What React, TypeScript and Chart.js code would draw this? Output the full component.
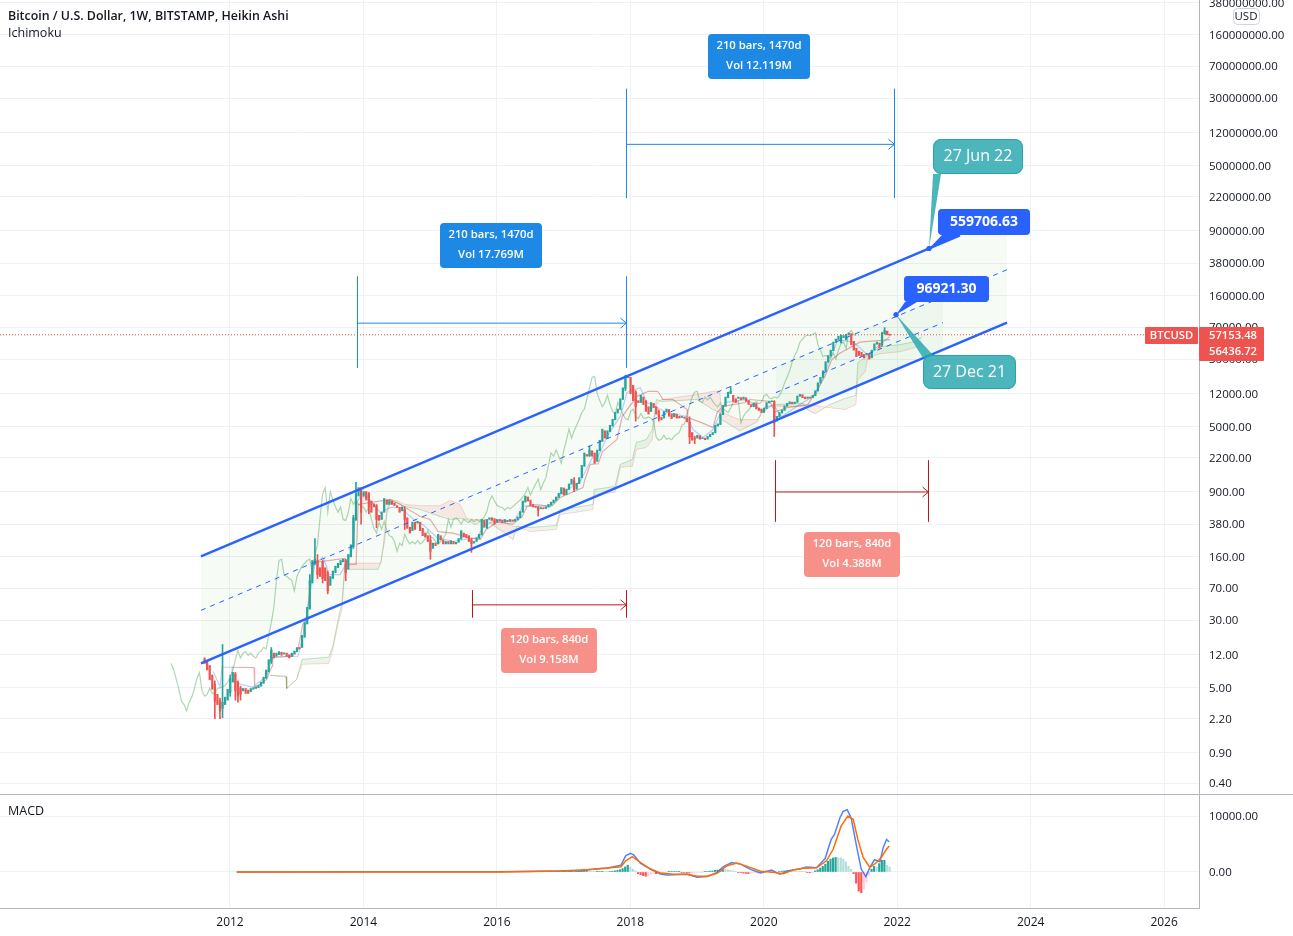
import { useEffect, useRef } from "react";
import { Chart, registerables } from "chart.js";

Chart.register(...registerables);

const FONT = '"Open Sans", sans-serif';
const TEXT = "#131722";
const GRID = "#f0f1f4";
const AXIS = "#b2b5be";
const UP = "#26a69a";
const DOWN = "#ef5350";

const X_MIN = 2008.553;
const X_MAX = 2026.523;

const yearTicks = [2012, 2014, 2016, 2018, 2020, 2022, 2024, 2026];
const priceTicks = [
  380000000, 160000000, 70000000, 30000000, 12000000, 5000000, 2200000, 900000, 380000, 160000, 70000, 30000,
  12000, 5000, 2200, 900, 380, 160, 70, 30, 12, 5, 2.2, 0.9, 0.4,
];
const macdTicks = [10000, 0];

// weekly heikin ashi, one candle per two weeks
const candleStart = 2011.619;
const candleOpen = [
  11, 10, 9, 7, 5.5, 4.2, 3.6, 2.9, 3.2, 3.6, 4.4, 5.8, 7.2, 5.8, 5, 4.6, 4.9, 4.7, 4.5, 4.8,
  4.9, 5, 5.2, 5.6, 6.4, 7.6, 10, 12.5, 11.5, 12, 12.8, 12.2, 12.5, 12, 11.5, 12.2, 13, 14.5, 14.5, 19,
  27, 40, 80, 135, 145, 120, 140, 120, 105, 75, 90, 105, 120, 130, 140, 145, 115, 160, 210, 430,
  800, 950, 800, 900, 850, 700, 650, 620, 480, 430, 520, 720, 640, 700, 660, 620, 590, 540, 560, 450,
  350, 320, 400, 390, 400, 340, 300, 280, 250, 200, 230, 225, 280, 250, 225, 240, 225, 240, 225, 235,
  255, 300, 290, 280, 250, 230, 240, 260, 285, 420, 340, 430, 450, 440, 400, 430, 420, 400, 420, 410,
  425, 410, 425, 450, 520, 680, 780, 720, 640, 610, 600, 570, 585, 575, 595, 630, 670, 710, 770, 850,
  990, 830, 950, 1090, 1200, 960, 1110, 1300, 1750, 2400, 2300, 2650, 2500, 2000, 2650, 3400, 4500, 3700, 4400, 5100,
  6000, 7200, 7900, 10300, 13800, 18300, 18500, 15000, 12500, 10000, 9500, 11000, 10000, 8500, 7500, 9300, 8500, 7500, 6400, 6300,
  7400, 7900, 7000, 6500, 7000, 6600, 6400, 6450, 6300, 5700, 4300, 3700, 3700, 3950, 3650, 3700, 3600, 3850, 4050, 4250,
  5100, 5300, 6900, 8600, 10800, 12200, 11500, 10500, 10600, 10800, 10400, 10800, 10000, 9000, 8500, 9300, 8200, 8000, 7300, 8100,
  9400, 9700, 9800, 5800, 6500, 7200, 7700, 8600, 9200, 9600, 9250, 9550, 11200, 11700, 11000, 10600, 10900, 10800, 11400, 12900,
  15900, 18400, 22000, 27500, 32500, 37500, 46500, 50500, 46000, 53000, 50000, 57500, 59000, 48000, 40000, 37000, 36000, 34000, 33500, 34000,
  31000, 38000, 44500, 46000, 44000, 59000, 63000, 58000,
];
const candleClose = [
  9.5, 8, 6.2, 4.8, 3.5, 3.2, 2.7, 3.4, 3.9, 4.8, 6.4, 7.5, 4.6, 4, 4.2, 4.9, 4.3, 4.3, 4.9, 5,
  5.1, 5.3, 5.8, 6.6, 8, 10.5, 13.5, 11, 12.5, 13, 11.8, 12.6, 11.5, 11, 12.5, 13.2, 14.5, 14, 20, 28,
  42, 85, 145, 150, 100, 95, 90, 85, 65, 95, 110, 125, 135, 145, 150, 105, 170, 220, 450, 850,
  1000, 520, 900, 720, 600, 520, 600, 430, 420, 520, 750, 640, 720, 640, 620, 590, 520, 600, 430, 340,
  300, 400, 330, 410, 320, 280, 270, 240, 185, 230, 215, 290, 250, 225, 240, 225, 245, 225, 235, 260,
  320, 270, 265, 240, 225, 240, 265, 290, 430, 350, 430, 450, 420, 380, 430, 410, 395, 430, 405, 430,
  410, 430, 460, 530, 700, 800, 700, 620, 600, 590, 550, 590, 570, 600, 640, 680, 720, 780, 860, 1000,
  820, 960, 1100, 1250, 950, 1120, 1300, 1800, 2500, 2300, 2700, 2300, 1900, 2700, 3500, 4700, 3700, 4500, 5200, 6100,
  7300, 8000, 10500, 14000, 18500, 19000, 12000, 10000, 8500, 9500, 11500, 9000, 7500, 7000, 9500, 8300, 7000, 6200, 6000, 7500,
  8000, 6600, 6200, 7100, 6300, 6300, 6500, 6250, 5700, 3800, 3500, 3600, 4000, 3600, 3700, 3550, 3900, 4100, 4300, 5200,
  5400, 7000, 8800, 11000, 12500, 12800, 9800, 9500, 11000, 10200, 11000, 9800, 9000, 8500, 9400, 8000, 7700, 7300, 8200, 9500,
  9800, 9900, 5500, 6600, 7300, 7800, 8700, 9300, 9700, 9200, 9600, 11300, 11800, 10800, 10500, 11000, 10700, 11500, 13000, 16000,
  18500, 22000, 28000, 33000, 38000, 47000, 51000, 55000, 57000, 56000, 58000, 60000, 44000, 38000, 32000, 33000, 32000, 31000, 35000, 30000,
  38000, 45000, 47000, 40000, 60000, 64000, 57000, 56436,
];

// the long wicks, by candle number
const wickCandle = [4, 6, 7, 10, 12, 13, 14, 26, 41, 43, 44, 46, 48, 55, 58, 59, 61, 64, 67, 78, 88, 104, 130, 144, 150, 164, 168, 177, 189, 191, 205, 222, 264, 265];
const wickHigh = [6, 3.8, 15.7, 7, 7.5, 6, 5.2, 14.5, 100, 260, 170, 145, 110, 150, 480, 1150, 1000, 880, 640, 600, 280, 260, 600, 1300, 3000, 19700, 13000, 7800, 6500, 3900, 14500, 10000, 61000, 69000];
const wickLow = [2.2, 2.2, 2.25, 4, 3.6, 3.4, 3.6, 9.5, 75, 130, 90, 80, 60, 85, 200, 420, 380, 500, 345, 330, 150, 180, 470, 900, 2300, 13000, 5800, 5800, 3200, 3200, 12000, 3860, 42000, 58000];

const tenkanYears = [
  2011.75, 2011.85, 2011.88, 2012.03, 2012.04, 2012.15, 2012.34, 2012.55, 2012.64, 2013.02, 2013.09, 2013.17, 2013.27, 2013.39, 2013.45, 2013.47, 2013.65, 2013.75, 2013.83, 2013.9,
  2013.95, 2014.07, 2014.25, 2014.4, 2014.55, 2014.8, 2014.89, 2015.1, 2015.34, 2015.7, 2015.82, 2016.05, 2016.24, 2016.39, 2016.6, 2016.8, 2016.99, 2017.25, 2017.44, 2017.5,
  2017.65, 2017.85, 2017.95, 2018.15, 2018.25, 2018.55, 2018.85, 2018.94, 2019.09, 2019.24, 2019.42, 2019.75, 2019.99, 2020.14, 2020.27, 2020.5, 2020.74, 2020.8, 2020.99, 2021.11,
  2021.34, 2021.44, 2021.55, 2021.74, 2021.89,
];
const tenkanValues = [
  7.7, 5.1, 8.6, 8.6, 6.25, 5.5, 5.1, 6.8, 11.2, 11.5, 19.5, 43.7, 131, 158, 124, 100, 100, 138, 195, 674,
  790, 770, 518, 590, 590, 400, 375, 267, 240, 267, 375, 430, 400, 606, 640, 606, 880, 1180, 2270, 2100,
  3860, 6600, 12400, 14100, 9500, 7300, 6550, 4650, 3760, 4650, 9500, 10300, 7500, 9000, 6550, 8600, 11200, 12400, 29600, 50200,
  47000, 40600, 33800, 44000, 54500,
];

const kijunYears = [
  2012.03, 2012.36, 2012.37, 2012.45, 2012.55, 2012.63, 2012.64, 2012.94, 2013.02, 2013.09, 2013.15, 2013.23, 2013.27, 2013.72, 2013.75, 2013.89, 2013.92, 2014.4, 2014.55, 2014.85,
  2015, 2015.12, 2015.34, 2015.57, 2015.75, 2015.84, 2016, 2016.24, 2016.38, 2016.45, 2016.83, 2016.95, 2017.29, 2017.32, 2017.4, 2017.52, 2017.58, 2017.67, 2017.8, 2017.88,
  2018.1, 2018.27, 2018.41, 2018.49, 2018.64, 2018.85, 2018.86, 2019.04, 2019.24, 2019.3, 2019.39, 2019.72, 2019.79, 2020.09, 2020.17, 2020.35, 2020.66, 2020.8, 2020.92, 2021.02,
  2021.14, 2021.44, 2021.89,
];
const kijunValues = [
  8.6, 8.5, 5.05, 5.5, 6.25, 8.8, 11.2, 11.5, 13.8, 26.7, 30.5, 124, 138, 153, 131, 131, 640, 730, 640, 465,
  430, 312, 300, 267, 253, 330, 400, 380, 465, 606, 620, 770, 1000, 1240, 1850, 1880, 2580, 2960, 3570, 6600,
  11200, 12800, 12800, 10300, 10300, 7900, 6400, 5700, 4900, 7300, 8600, 9500, 10300, 9800, 7400, 8300, 9000, 13400, 19200, 29600,
  35000, 47000, 50200,
];

const cloudYears = [
  2012.6, 2012.84, 2012.85, 2013, 2013.08, 2013.48, 2013.54, 2013.62, 2013.68, 2013.72, 2013.75, 2013.95, 2014.22, 2014.26, 2014.29, 2014.32, 2014.35, 2014.4, 2014.5, 2014.62,
  2014.85, 2015.15, 2015.3, 2015.45, 2015.55, 2015.67, 2015.82, 2015.97, 2016.12, 2016.24, 2016.3, 2016.5, 2016.89, 2016.95, 2017.17, 2017.44, 2017.46, 2017.77, 2017.85, 2018.03,
  2018.09, 2018.24, 2018.33, 2018.39, 2018.47, 2019, 2019.24, 2019.34, 2019.37, 2019.64, 2019.9, 2020.02, 2020.17, 2020.59, 2020.65, 2020.77, 2020.99, 2021.22, 2021.38, 2021.41,
  2021.52, 2021.56, 2021.74, 2022.04, 2022.27, 2022.37,
];
const spanA = [
  6.95, 6.8, 4.9, 6.25, 10.6, 11.2, 14.9, 30.5, 48, 131, 115, 115, 115, 138, 190, 253, 491, 674, 674, 606,
  560, 465, 430, 440, 430, 375, 430, 357, 300, 253, 357, 348, 367, 560, 590, 640, 950, 1030, 1850, 2100,
  3300, 3570, 4650, 10300, 9800, 10300, 7900, 7300, 6050, 4500, 5700, 8400, 9000, 9300, 7900, 7100, 9000, 10600, 11500, 27400,
  31200, 32900, 41700, 44000, 47700, 54400,
];
const spanB = [
  6.95, 6.6, 4.9, 6.25, 9.3, 9.5, 13.8, 26.7, 40, 115, 135, 135, 135, 135, 190, 330, 560, 730, 710, 640,
  620, 620, 710, 640, 440, 430, 430, 410, 400, 357, 357, 312, 330, 491, 518, 560, 832, 880, 1710, 1760,
  2740, 2890, 3570, 9000, 10300, 11750, 12800, 12800, 7300, 6050, 6050, 8600, 8600, 8600, 9000, 8800, 8300, 7900, 9000, 17500,
  21500, 31200, 34600, 36500, 40600, 44000,
];

// parallel channels
const channelYears = [2011.565, 2022.941, 2023.646];
const channelTop = [161.8, 791800, 791800];
const channelBottom = [9.55, 46560, 78700];
const upperLineYears = [2011.565, 2022.941];
const upperLine = [161.8, 791800];
const midLineYears = [2011.565, 2023.646];
const midLine = [38.8, 320000];
const lowerLineYears = [2011.565, 2023.646];
const lowerLine = [9.55, 78700];
const innerYears = [2020.183, 2022.686];
const innerTop = [25240, 160700];
const innerMid = [12360, 78700];
const innerBottom = [6053, 38550];

// date and price ranges
const rangeStart = [2017.9425, 2013.9109, 2015.6345, 2020.1757];
const rangeEnd = [2021.9592, 2017.9425, 2017.9425, 2022.4688];
const rangeTop = [38400000, 266000, 65.8, 2046];
const rangeBottom = [2148000, 23990, 32.2, 408];
const rangeMid = [8838000, 77730, 44.85, 890];
const rangeColor = ["#1e88e5", "#1e88e5", "#b71c1c", "#b71c1c"];

const lastPrice = 57153.48;

const macdYears = [
  2012.1, 2014, 2016, 2016.96, 2017.26, 2017.46, 2017.66, 2017.86, 2017.93, 2018, 2018.05, 2018.15, 2018.3, 2018.45, 2018.55, 2018.85, 2019, 2019.15, 2019.3, 2019.4,
  2019.52, 2019.65, 2019.8, 2019.95, 2020.12, 2020.24, 2020.39, 2020.54, 2020.64, 2020.79, 2020.92, 2021.01, 2021.06, 2021.14, 2021.19, 2021.25, 2021.31, 2021.39, 2021.46, 2021.53,
  2021.59, 2021.66, 2021.74, 2021.79, 2021.84, 2021.88,
];
const macdLine = [
  0, 30, 30, 180, 235, 530, 700, 1230, 2880, 3350, 3060, 1590, 530, -350, -530, -410, -940, -820, -60, 1000,
  1700, 1410, 470, -180, 350, -410, 290, 530, 880, 760, 2410, 5820, 6700, 9640, 10820, 11110, 9640, 4650, 530, -820,
  820, 2180, 1820, 4350, 5820, 5410,
];
const signalYears = [
  2012.1, 2014, 2016, 2016.96, 2017.46, 2017.86, 2017.93, 2018.03, 2018.15, 2018.3, 2018.45, 2018.65, 2018.85, 2019, 2019.15, 2019.3, 2019.45, 2019.6, 2019.75, 2019.95,
  2020.14, 2020.29, 2020.44, 2020.59, 2020.79, 2020.94, 2021.04, 2021.16, 2021.26, 2021.34, 2021.41, 2021.49, 2021.59, 2021.69, 2021.76, 2021.84, 2021.88,
];
const signalLine = [
  0, 20, 20, 180, 470, 940, 2000, 2760, 1700, 530, -180, -410, -410, -760, -760, -240, 1120, 1590, 1000, 120,
  -60, -290, 350, 650, 760, 2000, 4060, 8230, 9990, 9410, 5820, 2590, 820, 1700, 2590, 4060, 4650,
];
const histStart = 2016;
const macdHist = [
  30, 40, 30, 50, 40, 60, 50, 40, 50, 60, 50, 40, 30, 40, 60, 50, 40, 60, 70, 50, 60, 80, 60, 50, 70,
  50, 70, 60, 80, 120, 100, 100, 150, 180, 200, 200, 150, 120, 60, 60, 100, 120, 100, 70, 100, 130, 200, 300, 400, 600, 900, 1230,
  900, 500, 200, -300, -500, -650, -750, -700, -400, -250, -300, -200, -150, -100, -80, 50, 80, 100, 100, 120,
  -60, -100, -150, -200, -180, -120, -100, -80, -40, 60, 100, 150, 200, 300, 350, 400, 500, 450, 350,
  300, 200, 100, -60, -100, -200, -250, -280, -200, -180, -120, -60, -40, 50, 150, 100, -60, -100, -60, 100,
  150, 200, 250, 250, 200, 150, 100, 60, 50, 40, -50, -60, -30,
  200, 400, 700, 1000, 1400, 1900, 2300, 2500, 2600, 2550, 2500, 2300, 1800, 1000, 500,
  -300, -2000, -3400, -3700, -3000, -1800, -600, 500, 1000, 900, 1500, 2100, 2100, 1200, 900,
];

const rangeBoxes = [
  { x: 708, y: 34, w: 102, h: 45, fill: "#1e88e5", lines: ["210 bars, 1470d", "Vol 12.119M"] },
  { x: 440, y: 223, w: 102, h: 45, fill: "#1e88e5", lines: ["210 bars, 1470d", "Vol 17.769M"] },
  { x: 501, y: 628, w: 96, h: 45, fill: "#f8908a", lines: ["120 bars, 840d", "Vol 9.158M"] },
  { x: 804, y: 532, w: 96, h: 45, fill: "#f8908a", lines: ["120 bars, 840d", "Vol 4.388M"] },
];

const callouts = [
  { year: 2022.477, price: 559706, x: 933, y: 139, w: 90, h: 35, r: 8, tail: [933, 174, 941, 174], fill: "rgba(38,166,174,0.82)", stroke: "#26a3ab", font: `16px ${FONT}`, text: "27 Jun 22" },
  { year: 2022.477, price: 559706, x: 938, y: 209, w: 92, h: 26, r: 4, tail: [942, 235, 960, 235], fill: "#2962ff", stroke: "#2962ff", font: `bold 14px ${FONT}`, text: "559706.63" },
  { year: 2021.982, price: 96921.3, x: 923, y: 355, w: 93, h: 34, r: 8, tail: [923, 358, 933, 355], fill: "rgba(38,166,174,0.82)", stroke: "#26a3ab", font: `16px ${FONT}`, text: "27 Dec 21" },
  { year: 2021.982, price: 96921.3, x: 904, y: 276, w: 85, h: 26, r: 4, tail: [905, 302, 917, 302], fill: "#2962ff", stroke: "#2962ff", font: `bold 14px ${FONT}`, text: "96921.30" },
];

const toPoints = (xs: number[], ys: number[]) => xs.map((x, i) => ({ x, y: ys[i] }));

const line = (data: any[], color: string, order: number, extra: any = {}) => ({
  type: "line",
  data,
  borderColor: color,
  borderWidth: 1,
  pointRadius: 0,
  tension: 0,
  fill: false,
  order,
  ...extra,
});

function box(ctx: CanvasRenderingContext2D, x: number, y: number, w: number, h: number, r: number, fill: string) {
  ctx.fillStyle = fill;
  ctx.beginPath();
  ctx.roundRect(x, y, w, h, r);
  ctx.fill();
}

function label(ctx: CanvasRenderingContext2D, text: string, x: number, y: number, font: string, color: string, align: CanvasTextAlign = "center") {
  ctx.font = font;
  ctx.fillStyle = color;
  ctx.textAlign = align;
  ctx.textBaseline = "middle";
  ctx.fillText(text, x, y);
}

const overlay = {
  id: "overlay",
  afterDraw(chart: any) {
    const { ctx, scales } = chart;
    ctx.save();

    // range arrows and boxes
    rangeEnd.forEach((end, i) => {
      const x = scales.x.getPixelForValue(end);
      const y = scales.y.getPixelForValue(rangeMid[i]);
      ctx.strokeStyle = rangeColor[i];
      ctx.lineWidth = 1;
      ctx.beginPath();
      ctx.moveTo(x - 6, y - 5);
      ctx.lineTo(x, y);
      ctx.lineTo(x - 6, y + 5);
      ctx.stroke();
    });
    rangeBoxes.forEach((b) => {
      box(ctx, b.x, b.y, b.w, b.h, 4, b.fill);
      label(ctx, b.lines[0], b.x + b.w / 2, b.y + 12, `600 11.3px ${FONT}`, "#fff");
      label(ctx, b.lines[1], b.x + b.w / 2, b.y + 32, `600 11.3px ${FONT}`, "#fff");
    });

    // balloons pointing at the channel
    callouts.forEach((c) => {
      const ax = scales.x.getPixelForValue(c.year);
      const ay = scales.y.getPixelForValue(c.price);
      ctx.fillStyle = c.fill;
      ctx.beginPath();
      ctx.moveTo(ax, ay);
      ctx.lineTo(c.tail[0], c.tail[1]);
      ctx.lineTo(c.tail[2], c.tail[3]);
      ctx.closePath();
      ctx.fill();
      box(ctx, c.x, c.y, c.w, c.h, c.r, c.fill);
      ctx.strokeStyle = c.stroke;
      ctx.lineWidth = 1;
      ctx.beginPath();
      ctx.roundRect(c.x + 0.5, c.y + 0.5, c.w - 1, c.h - 1, c.r);
      ctx.stroke();
      label(ctx, c.text, c.x + c.w / 2, c.y + c.h / 2, c.font, "#fff");
      ctx.fillStyle = "#2962ff";
      ctx.beginPath();
      ctx.arc(ax, ay, 2.5, 0, Math.PI * 2);
      ctx.fill();
    });

    // last price tags
    box(ctx, 1145, 327, 53, 17, 1, DOWN);
    label(ctx, "BTCUSD", 1171.5, 336, `600 11.2px ${FONT}`, "#fff");
    box(ctx, 1199, 327, 65, 34, 1, DOWN);
    label(ctx, "57153.48", 1233, 336, `600 11.2px ${FONT}`, "#fff");
    label(ctx, "56436.72", 1233, 352, `600 11.2px ${FONT}`, "#fff");

    // currency button
    box(ctx, 1233, 8, 26, 16, 4, "#fff");
    ctx.strokeStyle = "#d1d4dc";
    ctx.lineWidth = 1;
    ctx.beginPath();
    ctx.roundRect(1233.5, 8.5, 26, 16, 4);
    ctx.stroke();
    label(ctx, "USD", 1246, 16.5, `11.5px ${FONT}`, TEXT);

    label(ctx, "Bitcoin / U.S. Dollar, 1W, BITSTAMP, Heikin Ashi", 8, 16, `600 12.4px ${FONT}`, TEXT, "left");
    label(ctx, "Ichimoku", 8, 33, `12.5px ${FONT}`, TEXT, "left");
    ctx.restore();
  },
};

const macdLegend = {
  id: "macdLegend",
  afterDraw(chart: any) {
    label(chart.ctx, "MACD", 8, 17, `12.5px ${FONT}`, TEXT, "left");
  },
};

const plainPlugins = { legend: { display: false }, tooltip: { enabled: false } };

function priceDatasets() {
  const candleYears = candleOpen.map((_, i) => candleStart + i / 26);
  const lagging = candleClose.map((c, i) => ({ x: candleYears[i] - 0.5, y: c }));
  const channelFill = "rgba(76,175,80,0.05)";
  const sets: any[] = [
    line(toPoints(channelYears, channelTop), "transparent", 60, {
      borderWidth: 0,
      fill: { target: "+1", above: channelFill, below: channelFill },
    }),
    line(toPoints(channelYears, channelBottom), "transparent", 61, { borderWidth: 0 }),
    line(toPoints(innerYears, innerTop), "transparent", 58, {
      borderWidth: 0,
      fill: { target: "+1", above: channelFill, below: channelFill },
    }),
    line(toPoints(innerYears, innerBottom), "transparent", 59, { borderWidth: 0 }),
    line(toPoints(cloudYears, spanA), "rgba(67,160,71,0.3)", 50, {
      fill: { target: "+1", above: "rgba(67,160,71,0.1)", below: "rgba(244,67,54,0.1)" },
    }),
    line(toPoints(cloudYears, spanB), "rgba(244,67,54,0.2)", 51),
    line(lagging, "rgba(67,160,71,0.42)", 40, { borderWidth: 1.2 }),
    line(toPoints(kijunYears, kijunValues), "rgba(183,28,28,0.35)", 39, { borderWidth: 1.2 }),
    line(toPoints(tenkanYears, tenkanValues), "rgba(41,98,255,0.3)", 38, { borderWidth: 1.2 }),
    {
      type: "bar",
      grouped: false,
      barThickness: 1,
      order: 31,
      data: wickCandle.map((c, i) => ({ x: candleYears[c], y: [wickLow[i], wickHigh[i]] })),
      backgroundColor: wickCandle.map((c) => (candleClose[c] >= candleOpen[c] ? UP : DOWN)),
    },
    {
      type: "bar",
      grouped: false,
      barThickness: 1.6,
      minBarLength: 1,
      order: 30,
      data: candleOpen.map((o, i) => ({ x: candleYears[i], y: [o, candleClose[i]] })),
      backgroundColor: candleOpen.map((o, i) => (candleClose[i] >= o ? UP : DOWN)),
    },
    line([{ x: X_MIN, y: lastPrice }, { x: X_MAX, y: lastPrice }], DOWN, 25, { borderDash: [1, 2] }),
    line(toPoints(upperLineYears, upperLine), "#2962ff", 20, { borderWidth: 2.4 }),
    line(toPoints(lowerLineYears, lowerLine), "#2962ff", 20, { borderWidth: 2.4 }),
    line(toPoints(midLineYears, midLine), "#2962ff", 20, { borderDash: [5, 5] }),
    line(toPoints(innerYears, innerMid), "#2962ff", 20, { borderDash: [5, 5] }),
  ];
  rangeStart.forEach((start, i) => {
    const end = rangeEnd[i];
    const color = rangeColor[i];
    sets.push(line([{ x: start, y: rangeTop[i] }, { x: start, y: rangeBottom[i] }], color, 10));
    sets.push(line([{ x: end, y: rangeTop[i] }, { x: end, y: rangeBottom[i] }], color, 10));
    sets.push(line([{ x: start, y: rangeMid[i] }, { x: end, y: rangeMid[i] }], color, 10));
  });
  return sets;
}

function macdDatasets() {
  const histColor = macdHist.map((v, i) => {
    const prev = i ? macdHist[i - 1] : 0;
    if (v >= 0) return v >= prev ? UP : "#b2dfdb";
    return v <= prev ? "#ff5252" : "#ffcdd2";
  });
  return [
    line(toPoints(signalYears, signalLine), "#ff6d00", 1, { borderWidth: 1.5 }),
    line(toPoints(macdYears, macdLine), "#2962ff", 2, { borderWidth: 1.5, borderColor: "rgba(41,98,255,0.8)" }),
    {
      type: "bar",
      grouped: false,
      barThickness: 1.5,
      order: 3,
      data: macdHist.map((v, i) => ({ x: histStart + i / 26, y: v })),
      backgroundColor: histColor,
    },
  ];
}

// no room kept for half a tick label above and below the plot
const yAxisBase = {
  position: "right",
  afterFit: (s: any) => {
    s.width = 94;
    s.paddingTop = 0;
    s.paddingBottom = 0;
  },
  border: { color: AXIS },
  grid: { color: GRID, drawTicks: false },
};

const xAxisBase = {
  type: "linear",
  min: X_MIN,
  max: X_MAX,
  offset: false,
  afterBuildTicks: (s: any) => {
    s.ticks = yearTicks.map((value) => ({ value }));
  },
  grid: { color: GRID, drawTicks: false, offset: false },
};

const priceLabels = {
  autoSkip: false,
  padding: 10,
  labelOffset: 1,
  color: TEXT,
  font: { size: 11.5 },
  callback: (v: any) => Number(v).toFixed(2),
};

export default function App() {
  const priceRef = useRef<HTMLCanvasElement | null>(null);
  const macdRef = useRef<HTMLCanvasElement | null>(null);

  useEffect(() => {
    if (!priceRef.current || !macdRef.current) return;
    Chart.defaults.font.family = FONT;

    const price = new Chart(priceRef.current, {
      type: "line",
      data: { datasets: priceDatasets() },
      plugins: [overlay],
      options: {
        responsive: false,
        animation: false,
        events: [],
        layout: { padding: 0 },
        plugins: plainPlugins,
        scales: {
          x: {
            ...xAxisBase,
            ticks: { display: false },
            border: { display: false },
            afterFit: (s: any) => {
              s.height = 0;
              s.paddingLeft = 0;
              s.paddingRight = 0;
            },
          },
          y: {
            ...yAxisBase,
            type: "logarithmic",
            min: 0.3069,
            max: 403600000,
            afterBuildTicks: (s: any) => {
              s.ticks = priceTicks.map((value) => ({ value }));
            },
            ticks: priceLabels,
          },
        },
      } as any,
    } as any);

    const macd = new Chart(macdRef.current, {
      type: "line",
      data: { datasets: macdDatasets() as any },
      plugins: [macdLegend],
      options: {
        responsive: false,
        animation: false,
        events: [],
        layout: { padding: 0 },
        plugins: plainPlugins,
        scales: {
          x: {
            ...xAxisBase,
            border: { color: AXIS },
            ticks: { padding: 7, maxRotation: 0, autoSkip: false, color: TEXT, font: { size: 12 }, callback: (v: any) => String(v) },
            afterFit: (s: any) => {
              s.height = 28;
              s.paddingLeft = 0;
              s.paddingRight = 0;
            },
          },
          y: {
            ...yAxisBase,
            min: -6429,
            max: 13929,
            afterBuildTicks: (s: any) => {
              s.ticks = macdTicks.map((value) => ({ value }));
            },
            ticks: priceLabels,
          },
        },
      } as any,
    } as any);

    return () => {
      price.destroy();
      macd.destroy();
    };
  }, []);

  return (
    <div style={{ position: "absolute", left: 0, top: 0, width: 1293, height: 936, background: "#fff" }}>
      <canvas ref={priceRef} width={1293} height={794} style={{ position: "absolute", left: 0, top: 0 }} />
      <canvas ref={macdRef} width={1293} height={142} style={{ position: "absolute", left: 0, top: 794 }} />
      <div style={{ position: "absolute", left: 0, top: 794, width: 1293, height: 1, background: AXIS }} />
    </div>
  );
}
